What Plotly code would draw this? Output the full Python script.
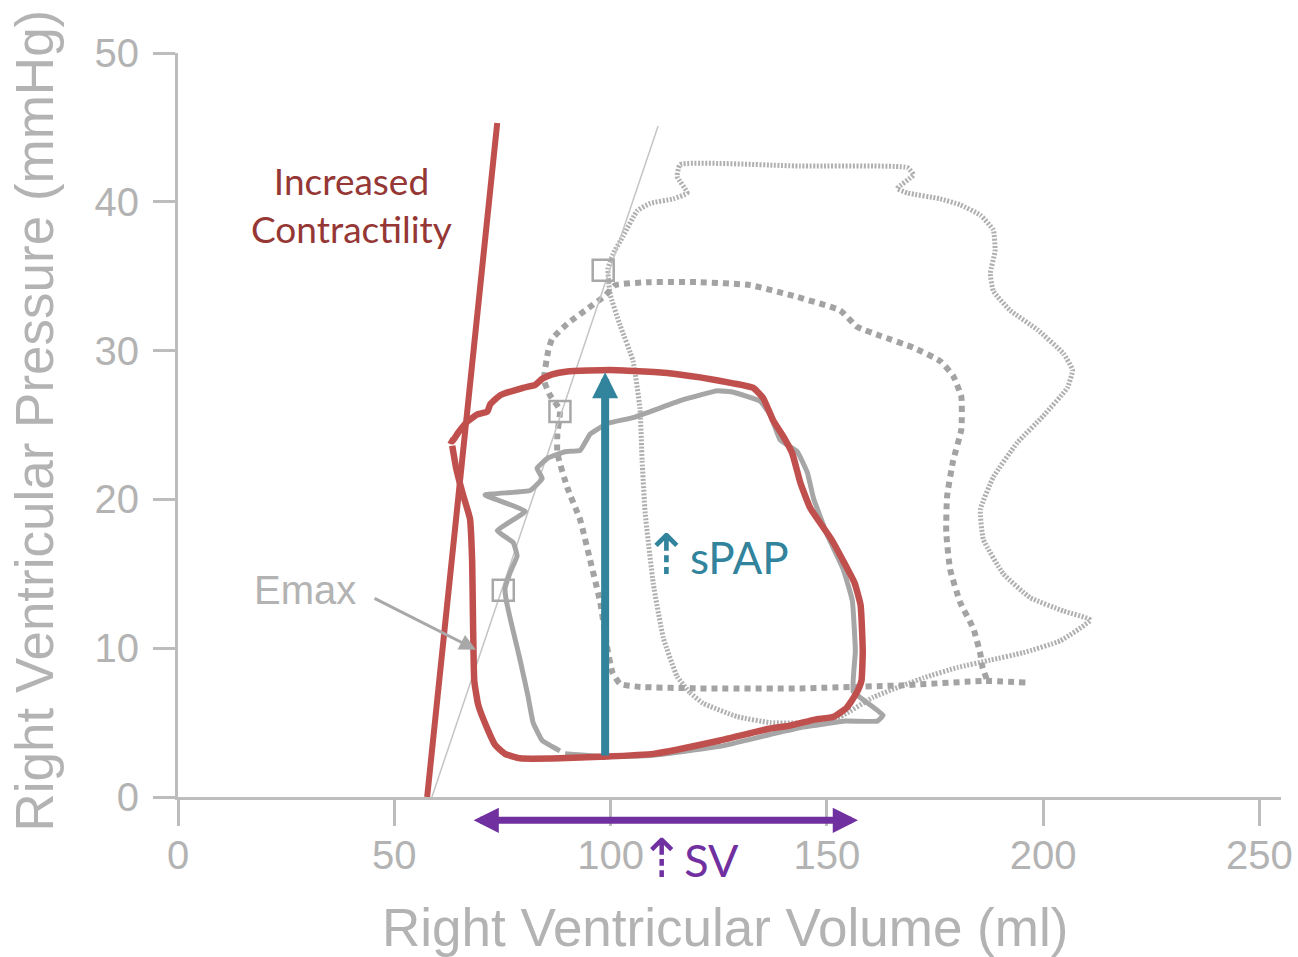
import plotly.graph_objects as go

# ---------------- data (volume in ml, pressure in mmHg) ----------------
x_ticks = [0, 50, 100, 150, 200, 250]
y_ticks = [0, 10, 20, 30, 40, 50]

# increased-contractility PV loop (red)
red_loop_v = [62.7, 63.4, 64.8, 66.8, 69.1, 71.5, 72.2, 74.5, 79.8, 82.6, 84.2, 86.5, 90.0, 99.9,
              113.1, 120.7, 128.4, 133.0, 135.3, 137.6, 140.0, 142.0, 143.9, 146.2, 151.1, 154.1,
              156.4, 157.8, 158.3, 158.0, 156.9, 154.6, 151.6, 147.3, 141.5, 136.9, 125.3, 109.9,
              97.6, 88.3, 79.1, 75.6, 73.3, 71.5, 69.4, 68.5, 68.2, 68.0, 67.5, 65.9, 64.3, 63.4]
red_loop_p = [24.0, 23.9, 24.5, 25.2, 25.7, 25.9, 26.4, 27.0, 27.5, 27.7, 28.1, 28.4, 28.6, 28.7,
              28.5, 28.2, 27.8, 27.5, 26.8, 25.3, 24.2, 23.1, 21.1, 19.4, 17.3, 15.7,
              14.4, 12.9, 9.8, 7.8, 7.0, 6.0, 5.4, 5.2, 4.8, 4.6, 3.8, 2.9,
              2.7, 2.6, 2.6, 2.9, 3.5, 4.6, 6.2, 7.8, 11.9, 15.9, 18.7, 20.3, 22.1, 23.6]

# increased-contractility end-systolic line (red)
red_line_v = [57.6, 73.8]
red_line_p = [0.0, 45.3]

# baseline Emax line (thin gray)
emax_v = [58.7, 111.0]
emax_p = [0.0, 45.1]

# baseline PV loop (solid gray)
base_v = [88.3, 84.2, 82.1, 80.9, 79.1, 77.2, 75.9, 75.6, 76.8, 78.4, 77.5, 73.8, 80.3, 71.0,
          81.4, 84.2, 83.0, 85.6, 89.5, 93.0, 95.3, 99.2, 105.2, 116.8, 124.7, 128.4, 134.6,
          136.9, 139.2, 143.2, 145.5, 146.9, 150.1, 153.8, 155.9, 156.6, 156.1, 163.0, 161.7,
          154.3, 144.5, 136.9, 125.3, 109.9, 99.2, 89.5]
base_p = [3.1, 3.8, 5.0, 6.8, 9.2, 11.5, 13.2, 14.0, 15.1, 16.2, 17.1, 17.9, 19.2, 20.3,
          20.6, 21.4, 22.1, 22.8, 23.2, 23.3, 24.4, 25.1, 25.5, 26.7, 27.3, 27.2, 26.6,
          25.7, 24.0, 23.2, 21.8, 20.1, 17.6, 15.3, 13.2, 9.8, 7.1, 5.5, 5.1,
          5.1, 4.7, 4.2, 3.4, 2.8, 2.7, 2.9]

# intermediate loop (heavy dotted gray)
mid_v = [195.9, 186.6, 167.0, 143.8, 120.7, 106.8, 102.2, 100.4, 99.2, 97.6, 95.3, 93.0, 90.0,
         87.7, 87.7, 88.3, 86.0, 84.6, 85.6, 86.5, 90.0, 94.6, 98.8, 101.1, 109.2, 120.7, 132.3,
         143.2, 153.1, 157.0, 162.3, 170.0, 176.2, 179.2, 181.1, 181.1, 179.2, 177.8, 177.6,
         178.5, 180.8, 183.9, 185.5, 186.0, 187.0]
mid_p = [7.7, 7.8, 7.5, 7.3, 7.3, 7.4, 7.6, 8.4, 10.1, 13.1, 15.9, 18.6, 20.8,
         23.1, 24.4, 26.0, 27.0, 28.0, 30.0, 30.8, 31.8, 32.8, 33.7, 34.4, 34.6, 34.6, 34.4,
         33.6, 32.7, 31.6, 31.0, 30.2, 29.3, 28.3, 26.9, 24.7, 22.6, 20.2, 17.8,
         15.3, 13.1, 11.3, 9.6, 8.7, 7.9]

# large loop (fine dotted gray)
big_v = [115.4, 118.4, 121.4, 129.3, 136.9, 146.2, 153.1, 160.7, 172.3, 180.2, 187.8, 195.4,
         204.0, 210.9, 204.7, 197.0, 190.8, 186.2, 185.5, 188.5, 194.0, 200.0, 205.6, 206.8,
         204.7, 198.7, 192.4, 188.5, 187.8, 188.9, 188.5, 185.5, 180.8, 176.2, 168.6, 166.3,
         170.0, 168.6, 143.8, 116.1, 115.4, 117.7, 114.5, 109.2, 106.2, 102.9, 100.6, 99.4,
         99.9, 102.2, 105.2, 106.8, 107.3, 108.0, 109.9, 112.2, 115.4]
big_p = [8.1, 7.0, 6.3, 5.4, 5.0, 5.0, 5.4, 6.7, 8.0, 8.7, 9.2, 9.7,
         10.5, 11.9, 12.5, 13.4, 15.0, 17.3, 19.3, 21.5, 23.8, 25.6, 27.5, 28.7,
         29.8, 31.4, 32.7, 34.0, 35.2, 36.7, 38.1, 39.1, 39.8, 40.2, 40.6, 40.9,
         41.8, 42.3, 42.4, 42.5, 41.7, 40.6, 40.2, 39.9, 39.4, 37.7, 36.5, 35.5,
         33.8, 31.7, 29.3, 26.1, 22.6, 19.1, 14.3, 10.7, 8.1]

# end-systolic points (open squares)
es_v = [98.3, 88.3, 75.2]
es_p = [35.4, 25.9, 13.9]

# annotation values
spap_v = 98.75
spap_p = [2.68, 28.54]          # tail, head
sv_v = [68.0, 157.2]            # stroke-volume span
emax_arrow_v = [45.1, 68.9]     # tail, head
emax_arrow_p = [13.4, 9.9]
emax_label = (29.4, 13.9)
contract_label = (40.2, 39.8)
spap_label = (124.4, 16.4)
sv_label_v = 118.1

# ---------------- style ----------------
AX = "#bdbdbd"
TXT = "#b3b3b3"
RED = "#C0504D"
TEAL = "#31849B"
PURPLE = "#7030A0"
GRAY = "#a6a6a6"

fig = go.Figure()

fig.add_trace(go.Scatter(x=big_v, y=big_p, mode="lines",
                         line=dict(color="rgba(150,150,150,0.75)", width=5, dash="2px,1.6px",
                                   shape="spline", smoothing=0.4),
                         hoverinfo="skip"))
fig.add_trace(go.Scatter(x=mid_v, y=mid_p, mode="lines",
                         line=dict(color="#a3a3a3", width=6, dash="6px,5px",
                                   shape="spline", smoothing=0.4),
                         hoverinfo="skip"))
fig.add_trace(go.Scatter(x=emax_v, y=emax_p, mode="lines",
                         line=dict(color="#c4c4c4", width=1.5), hoverinfo="skip"))
fig.add_trace(go.Scatter(x=base_v, y=base_p, mode="lines",
                         line=dict(color=GRAY, width=5, shape="spline", smoothing=0.3),
                         hoverinfo="skip"))
fig.add_trace(go.Scatter(x=es_v, y=es_p, mode="markers",
                         marker=dict(symbol="square-open", size=21, color="#a8a8a8",
                                     line=dict(width=2.5, color="#a8a8a8")),
                         hoverinfo="skip"))
fig.add_trace(go.Scatter(x=red_line_v, y=red_line_p, mode="lines",
                         line=dict(color=RED, width=6), hoverinfo="skip"))
fig.add_trace(go.Scatter(x=red_loop_v, y=red_loop_p, mode="lines",
                         line=dict(color=RED, width=6.5, shape="spline", smoothing=0.4),
                         hoverinfo="skip"))

ann = []
# sPAP arrow
ann.append(dict(x=spap_v, y=spap_p[1], ax=spap_v, ay=spap_p[0], xref="x", yref="y",
                axref="x", ayref="y", text="", showarrow=True, arrowhead=2, arrowsize=0.65,
                arrowwidth=8, arrowcolor=TEAL, standoff=0))
# SV double arrow (below the axis)
ann.append(dict(x=sv_v[1], y=-0.0313, ax=sv_v[0], ay=0, xref="x", yref="paper",
                axref="x", ayref="pixel", text="", showarrow=True, arrowhead=2, arrowsize=0.72,
                startarrowhead=2, startarrowsize=0.72, arrowside="end+start",
                arrowwidth=7, arrowcolor=PURPLE, standoff=0, startstandoff=0))
# Emax arrow
ann.append(dict(x=emax_arrow_v[1], y=emax_arrow_p[1], ax=emax_arrow_v[0], ay=emax_arrow_p[0],
                xref="x", yref="y", axref="x", ayref="y", text="", showarrow=True,
                arrowhead=2, arrowsize=1.1, arrowwidth=3, arrowcolor="#a8a8a8", standoff=0))
# labels
ann.append(dict(x=emax_label[0], y=emax_label[1], xref="x", yref="y", text="Emax",
                showarrow=False, xanchor="center", yanchor="middle",
                font=dict(family="Liberation Sans, Arial", size=40, color=TXT)))
ann.append(dict(x=contract_label[0], y=contract_label[1], xref="x", yref="y",
                text="Increased<br>Contractility", showarrow=False,
                xanchor="center", yanchor="middle",
                font=dict(family="Lato", size=37, color="#953735")))
ann.append(dict(x=spap_label[0], y=spap_label[1], xref="x", yref="y",
                text='<span style="font-size:56px">⇡</span>sPAP', showarrow=False,
                xanchor="center", yanchor="middle",
                font=dict(family="Lato, DejaVu Sans", size=44, color=TEAL)))
ann.append(dict(x=sv_label_v, y=-0.0797, xref="x", yref="paper",
                text='<span style="font-size:54px">⇡</span>SV', showarrow=False,
                xanchor="center", yanchor="middle", borderpad=0,
                font=dict(family="Lato, DejaVu Sans", size=45, color=PURPLE)))
# axis titles
ann.append(dict(x=0.496, y=-0.1751, xref="paper", yref="paper",
                text="Right Ventricular Volume (ml)", showarrow=False,
                xanchor="center", yanchor="middle",
                font=dict(family="Liberation Sans, Arial", size=53, color=TXT)))
ann.append(dict(x=-0.1297, y=0.506, xref="paper", yref="paper",
                text="Right Ventricular Pressure (mmHg)", showarrow=False, textangle=-90,
                xanchor="center", yanchor="middle",
                font=dict(family="Liberation Sans, Arial", size=53, color=TXT)))

fig.update_layout(
    width=1298, height=957,
    margin=dict(l=178, r=17.4, t=52.7, b=160.3, autoexpand=False),
    paper_bgcolor="white", plot_bgcolor="white",
    showlegend=False,
    annotations=ann,
    xaxis=dict(range=[0, 255], tickmode="array", tickvals=x_ticks,
               ticks="outside", ticklen=26, tickwidth=3, tickcolor=AX,
               showline=True, linewidth=3, linecolor=AX, showgrid=False, zeroline=False,
               tickfont=dict(family="Liberation Sans, Arial", size=40, color=TXT),
               ticklabelstandoff=-5, fixedrange=True, automargin=False),
    yaxis=dict(range=[0, 50], tickmode="array", tickvals=y_ticks,
               ticks="outside", ticklen=22, tickwidth=3, tickcolor=AX,
               showline=True, linewidth=3, linecolor=AX, showgrid=False, zeroline=False,
               tickfont=dict(family="Liberation Sans, Arial", size=40, color=TXT),
               ticklabelstandoff=6, fixedrange=True, automargin=False),
)

fig.write_html("out.html", config={"displayModeBar": False})
